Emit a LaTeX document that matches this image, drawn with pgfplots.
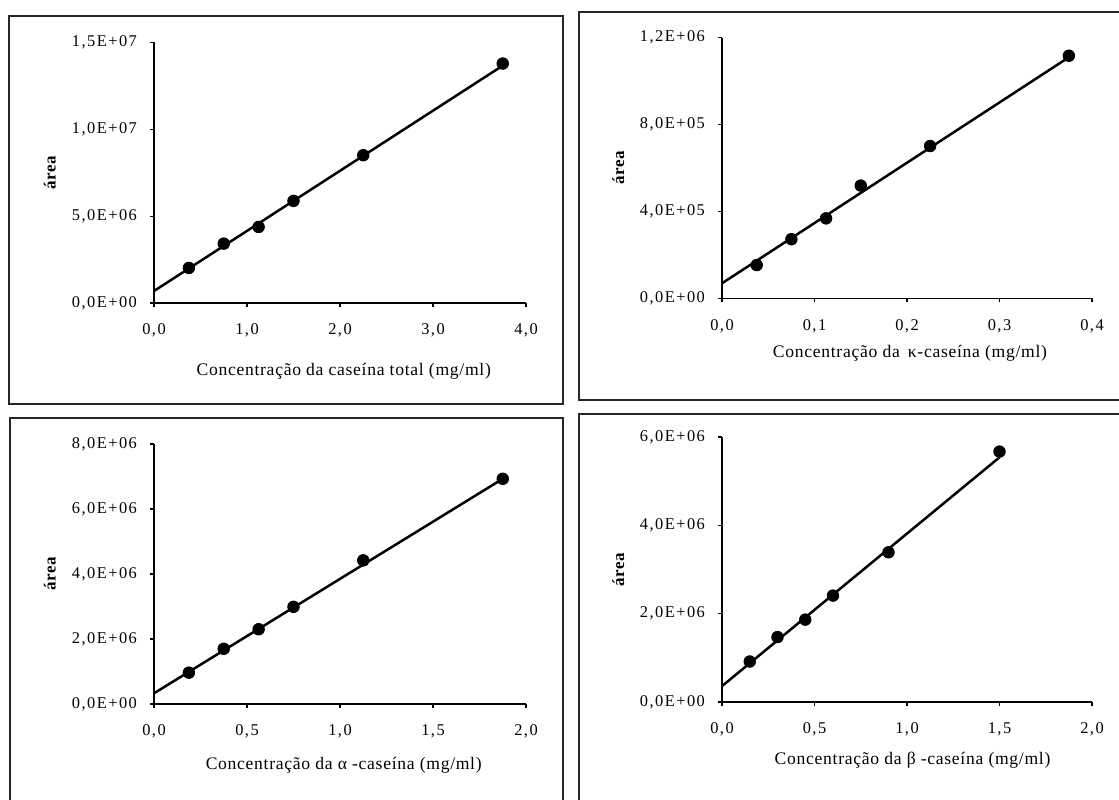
\documentclass[border=0pt]{standalone}
\usepackage{pgfplots}
\pgfplotsset{compat=1.18}
\usepackage{fontspec}
\setmainfont{Liberation Serif}
\newfontfamily\tickfont[LetterSpace=9]{Liberation Serif}
\newfontfamily\labfont[LetterSpace=4]{Liberation Serif}
\pgfplotsset{
  casein/.style={
    scale only axis, anchor=south west,
    axis x line*=bottom, axis y line*=left,
    axis line style={line width=0.8pt, black},
    enlargelimits=false, xmin=0, ymin=0,
    scaled ticks=false,
    tick align=outside, major tick length=2pt,
    tick style={line width=0.6pt, black},
    ticklabel style={font=\tickfont\fontsize{8.2}{10}\selectfont},
    xticklabel style={yshift=-5pt},
    yticklabel style={xshift=-3pt},
    xlabel style={font=\labfont\fontsize{8.8}{10}\selectfont, anchor=center},
    ylabel style={font=\labfont\bfseries\fontsize{8.5}{10}\selectfont, at={(axis description cs:-0.28,0.5)}, anchor=center},
    ylabel={área},
  },
  pts/.style={only marks, mark=*, mark size=2.9pt, mark options={fill=black, draw=black}},
  fitl/.style={no marks, line width=1.25pt, black},
}
\begin{document}
\begin{tikzpicture}
\useasboundingbox (0,0) rectangle (559.5pt,399.5pt);
\clip (0,0) rectangle (559.5pt,399.5pt);
% panel boxes
\draw[line width=1pt, black!85] (4.5pt,197.5pt) rectangle (281.5pt,391.5pt);
\draw[line width=1pt, black!85] (289.5pt,199.5pt) rectangle (565pt,393.5pt);
\draw[line width=1pt, black!85] (5pt,-3pt) rectangle (281.5pt,190.5pt);
\draw[line width=1pt, black!85] (289.5pt,-3pt) rectangle (565pt,192.5pt);

% Panel 1: total casein
\begin{axis}[casein, at={(77pt,248pt)}, width=186pt, height=130.25pt,
  xmax=4, ymax=15000000,
  xtick={0,1,2,3,4}, xticklabels={{0,0},{1,0},{2,0},{3,0},{4,0}},
  ytick={0,5000000,10000000,15000000},
  yticklabels={{0,0E+00},{5,0E+06},{1,0E+07},{1,5E+07}},
  xlabel={Concentração da caseína total (mg/ml)},
  xlabel style={at={(axis description cs:0.51,-0.261)}}]
\addplot[fitl] coordinates {(0,690000) (3.75,13670000)};
\addplot[pts] coordinates {(0.375,2020000) (0.75,3420000) (1.125,4380000) (1.5,5880000) (2.25,8510000) (3.75,13790000)};
\end{axis}

% Panel 2: kappa casein
\begin{axis}[casein, at={(361pt,250.35pt)}, width=185pt, height=130.3pt,
  xmax=0.4, ymax=1200000,
  xtick={0,0.1,0.2,0.3,0.4}, xticklabels={{0,0},{0,1},{0,2},{0,3},{0,4}},
  ytick={0,400000,800000,1200000},
  yticklabels={{0,0E+00},{4,0E+05},{8,0E+05},{1,2E+06}},
  xlabel={Concentração da \,κ-caseína (mg/ml)},
  xlabel style={at={(axis description cs:0.508,-0.21)}}]
\addplot[fitl] coordinates {(0,69000) (0.375,1110000)};
\addplot[pts] coordinates {(0.0375,153000) (0.075,272000) (0.1125,368000) (0.15,519000) (0.225,701000) (0.375,1117000)};
\end{axis}

% Panel 3: alpha casein
\begin{axis}[casein, at={(77pt,47.5pt)}, width=186pt, height=130pt,
  xmax=2, ymax=8000000,
  xtick={0,0.5,1,1.5,2}, xticklabels={{0,0},{0,5},{1,0},{1,5},{2,0}},
  ytick={0,2000000,4000000,6000000,8000000},
  yticklabels={{0,0E+00},{2,0E+06},{4,0E+06},{6,0E+06},{8,0E+06}},
  xlabel={Concentração da α -caseína (mg/ml)},
  xlabel style={at={(axis description cs:0.51,-0.235)}}]
\addplot[fitl] coordinates {(0,330000) (1.875,6930000)};
\addplot[pts] coordinates {(0.1875,965000) (0.375,1700000) (0.5625,2300000) (0.75,2990000) (1.125,4420000) (1.875,6930000)};
\end{axis}

% Panel 4: beta casein
\begin{axis}[casein, at={(361pt,48.5pt)}, width=185pt, height=132.5pt,
  xmax=2, ymax=6000000,
  xtick={0,0.5,1,1.5,2}, xticklabels={{0,0},{0,5},{1,0},{1,5},{2,0}},
  ytick={0,2000000,4000000,6000000},
  yticklabels={{0,0E+00},{2,0E+06},{4,0E+06},{6,0E+06}},
  xlabel={Concentração da β -caseína (mg/ml)},
  xlabel style={at={(axis description cs:0.515,-0.219)}}]
\addplot[fitl] coordinates {(0,360000) (1.5,5540000)};
\addplot[pts] coordinates {(0.15,917000) (0.3,1470000) (0.45,1865000) (0.6,2410000) (0.9,3390000) (1.5,5670000)};
\end{axis}
\end{tikzpicture}
\end{document}
